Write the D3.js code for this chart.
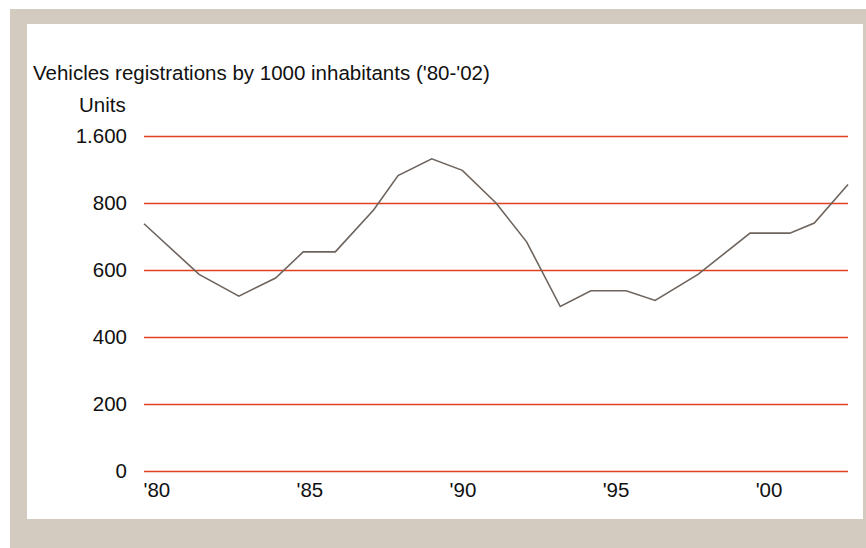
<!DOCTYPE html>
<html>
<head>
<meta charset="utf-8">
<script src="https://cdn.jsdelivr.net/npm/d3@7/dist/d3.min.js"></script>
<style>
  html, body { margin: 0; padding: 0; background: #ffffff; }
  svg { display: block; font-family: "Liberation Sans", Arial, Helvetica, sans-serif; }
</style>
</head>
<body>
<svg id="chart" width="866" height="548"></svg>
<script>
// Registrations per 1000 inhabitants, sampled along the 1980-2003 span
const years = [1980, 1981.8, 1983.1, 1984.3, 1985.2, 1986.25, 1987.5, 1988.3, 1989.4, 1990.4,
               1991.5, 1992.5, 1993.6, 1994.6, 1995.75, 1996.7, 1998.1, 1999.8, 2001.1, 2001.9, 2003];
const registrations = [738, 587, 522, 576, 654, 654, 779, 1127, 1328, 1190,
                       800, 684, 491, 538, 538, 509, 587, 710, 710, 740, 1021];

// Axis ticks (the top band of the value axis is compressed: 800 -> 1.600)
const yTickValues = [0, 200, 400, 600, 800, 1600];
const yTickLabels = ["0", "200", "400", "600", "800", "1.600"];
const xTickValues = [1980, 1985, 1990, 1995, 2000];
const xTickLabels = ["'80", "'85", "'90", "'95", "'00"];

const titleText = "Vehicles registrations by 1000 inhabitants ('80-'02)";
const unitText = "Units";

const fontSize = "20.5px";
const textColor = "#111";

const svg = d3.select("#chart");

// Frame: beige border with a white panel inside
svg.append("rect").attr("x", 10).attr("y", 9).attr("width", 856).attr("height", 539).attr("fill", "#d3cbc0");
svg.append("rect").attr("x", 27).attr("y", 24).attr("width", 836).attr("height", 495).attr("fill", "#ffffff");

const plot = { left: 144, right: 848, top: 136, bottom: 471 };

const x = d3.scaleLinear().domain([1980, 2003]).range([plot.left, plot.right]);

// Piecewise scale: tick values sit evenly spaced from bottom to top
const step = (plot.bottom - plot.top) / (yTickValues.length - 1);
const y = d3.scaleLinear()
  .domain(yTickValues)
  .range(yTickValues.map((d, i) => plot.bottom - i * step));

// Value axis with full-width red gridlines
const yAxis = d3.axisLeft(y)
  .tickValues(yTickValues)
  .tickFormat((d, i) => yTickLabels[i])
  .tickSize(-(plot.right - plot.left))
  .tickPadding(17);

const gy = svg.append("g").attr("transform", `translate(${plot.left},0)`).call(yAxis);
gy.select(".domain").remove();
gy.selectAll(".tick line").attr("stroke", "#e2401f").attr("stroke-width", 1.6);
gy.selectAll(".tick text")
  .attr("fill", textColor)
  .style("font-size", fontSize);

// Year axis, labels starting at their year position
const xAxis = d3.axisBottom(x)
  .tickValues(xTickValues)
  .tickFormat((d, i) => xTickLabels[i])
  .tickSize(0)
  .tickPadding(11);

const gx = svg.append("g").attr("transform", `translate(0,${plot.bottom})`).call(xAxis);
gx.select(".domain").remove();
gx.selectAll(".tick text")
  .attr("text-anchor", "start")
  .attr("x", -1)
  .attr("fill", textColor)
  .style("font-size", fontSize);

// Series line
const line = d3.line()
  .x((d, i) => x(years[i]))
  .y(d => y(d));

svg.append("path")
  .datum(registrations)
  .attr("d", line)
  .attr("fill", "none")
  .attr("stroke", "#6e645e")
  .attr("stroke-width", 1.6)
  .attr("stroke-linejoin", "miter");

// Titles
svg.append("text")
  .attr("x", 33).attr("y", 80)
  .attr("fill", textColor)
  .style("font-size", fontSize)
  .text(titleText);

svg.append("text")
  .attr("x", 79).attr("y", 112)
  .attr("fill", textColor)
  .style("font-size", fontSize)
  .text(unitText);
</script>
</body>
</html>
